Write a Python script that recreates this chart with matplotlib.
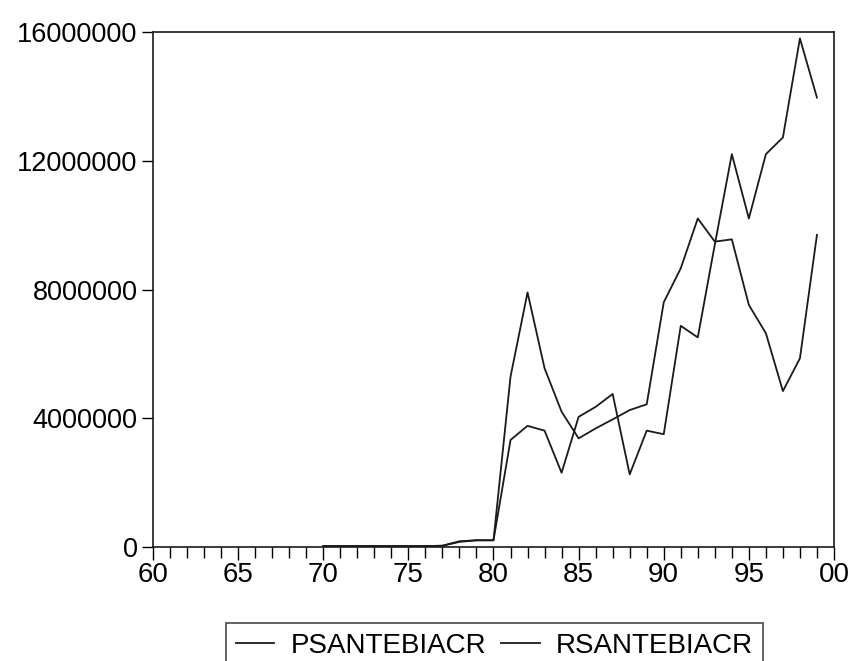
import matplotlib
matplotlib.use("Agg")
import matplotlib.pyplot as plt
import numpy as np

plt.rcParams['font.family'] = ['Liberation Sans', 'DejaVu Sans']

years = np.arange(1970, 2000)
psantebiacr = [0.02, 0.02, 0.02, 0.02, 0.02, 0.02, 0.02, 0.03, 0.15, 0.20,
               0.20, 5.29, 7.91, 5.55, 4.20, 3.37, 3.68, 3.96, 4.25, 4.43,
               7.60, 8.66, 10.21, 9.49, 9.56, 7.52, 6.64, 4.84, 5.86, 9.70]
rsantebiacr = [0.02, 0.02, 0.02, 0.02, 0.02, 0.02, 0.02, 0.03, 0.17, 0.20,
               0.20, 3.32, 3.76, 3.61, 2.30, 4.04, 4.35, 4.75, 2.25, 3.61,
               3.50, 6.87, 6.51, 9.40, 12.21, 10.21, 12.21, 12.73, 15.81, 13.97]
series_names = ['PSANTEBIACR', 'RSANTEBIACR']

y_ticks = [0, 4000000, 8000000, 12000000, 16000000]
x_major = [1960, 1965, 1970, 1975, 1980, 1985, 1990, 1995, 2000]
x_labels = ['60', '65', '70', '75', '80', '85', '90', '95', '00']

fig = plt.figure(figsize=(8.51, 6.61), dpi=100)
ax = fig.add_axes([0.1798, 0.1729, 0.8002, 0.7782])

l1, = ax.plot(years, np.array(psantebiacr) * 1e6, color='#1a1a1a', lw=1.3)
l2, = ax.plot(years, np.array(rsantebiacr) * 1e6, color='#1a1a1a', lw=1.3)

ax.set_xlim(1960, 2000)
ax.set_ylim(0, 16000000)

ax.set_yticks(y_ticks)
ax.set_yticklabels([str(v) for v in y_ticks])
ax.set_xticks(x_major)
ax.set_xticklabels(x_labels)
ax.set_xticks(np.arange(1960, 2001), minor=True)

ax.tick_params(axis='y', direction='out', length=8, width=1, labelsize=19.5, pad=3)
ax.tick_params(axis='x', which='major', direction='out', length=9, width=1,
               labelsize=20, pad=2)
ax.tick_params(axis='x', which='minor', direction='out', length=8, width=1)

for s in ax.spines.values():
    s.set_linewidth(1.2)
    s.set_color('#1a1a1a')

# Legende unten, Rahmen unten abgeschnitten wie im Original
leg = fig.legend([l1, l2], series_names, loc='upper center',
                 bbox_to_anchor=(0.581, 0.0575), ncol=2, frameon=True,
                 fancybox=False, edgecolor='#1a1a1a', fontsize=20,
                 handlelength=1.4, handletextpad=0.6, columnspacing=0.5,
                 borderpad=0.35, borderaxespad=0)
leg.get_frame().set_linewidth(1.2)

fig.savefig('out.png', dpi=100)
